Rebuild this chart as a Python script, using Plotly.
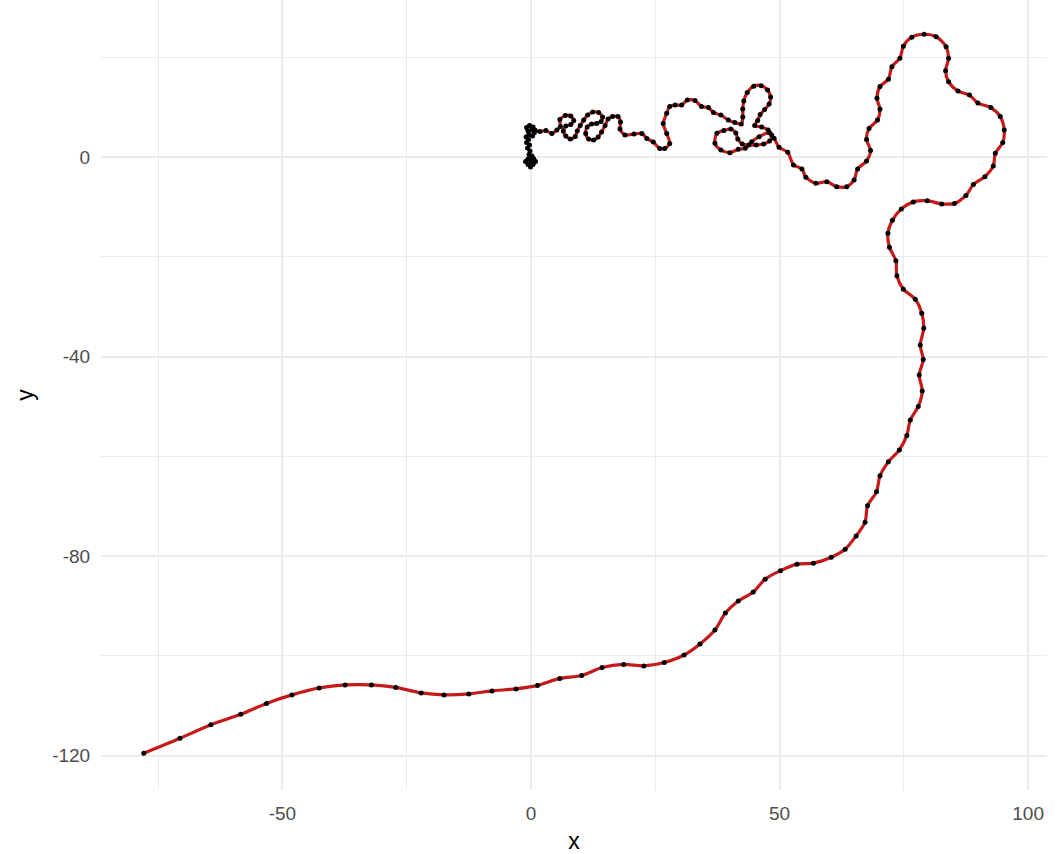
import plotly.graph_objects as go

# ---- path values (data units) ----
origin_x = [0, 0.5, 0.9, 0.4, -0.1, -0.6, -1.1, -0.6, 0.0, 0.6, 0.2, -0.4, -0.2, -0.7, -0.3, -0.9, -0.5, -1.0, -0.4, 0.3, 0.7, 0.1, -0.6, -0.9, -0.3, 0.4, 0.8]
origin_y = [0, -0.3, -0.9, -1.5, -2.0, -1.5, -0.9, -0.4, -0.9, -0.5, 0.2, 0.5, 1.2, 1.8, 2.4, 2.9, 3.5, 4.0, 4.5, 4.2, 4.9, 5.4, 5.2, 5.9, 6.3, 6.0, 5.4]

early_x = [1.8, 3.0, 4.2, 5.2, 5.9, 5.8, 6.9, 8.0, 8.6, 8.0, 7.0, 6.5, 7.0, 7.9, 8.9, 9.3, 9.9, 10.6, 11.4, 12.4, 13.6, 14.4, 14.1, 13.2, 12.2, 11.3, 11.0, 11.6, 12.6, 13.5, 14.2, 14.9, 15.5, 16.4, 17.5, 18.0, 17.9, 18.9, 20.7, 22.3, 23.3, 24.6, 25.9, 26.9, 27.9, 27.3, 26.6, 27.3, 27.9, 29.0, 30.3, 31.45, 33.0, 34.3, 35.7, 36.7, 38.2]
early_y = [5.1, 5.3, 4.7, 5.4, 6.1, 7.5, 8.3, 8.2, 7.3, 6.5, 6.2, 5.2, 4.2, 3.6, 4.1, 5.2, 6.3, 7.4, 8.4, 9.0, 8.9, 8.0, 7.1, 6.7, 6.6, 6.0, 4.7, 3.6, 3.4, 4.0, 5.0, 6.3, 7.6, 8.1, 8.1, 7.0, 5.6, 4.4, 4.6, 4.7, 3.7, 3.0, 1.7, 1.7, 2.7, 4.7, 6.7, 8.75, 10.1, 10.4, 10.4, 11.4, 11.3, 10.1, 9.9, 8.9, 8.4]

loop_x = [39.7, 41.0, 42.3, 42.6, 42.6, 42.8, 43.5, 44.8, 46.3, 47.6, 48.2, 47.9, 47.0, 46.1, 45.6, 45.0, 46.4, 47.7, 48.4, 48.0, 46.8, 45.3, 43.8, 42.5, 41.6, 41.2, 40.2, 38.8, 37.4, 37.0, 38.2, 40.0, 41.7, 43.1, 44.4, 45.9, 47.95]
loop_y = [7.4, 6.9, 6.6, 8.0, 9.6, 11.2, 12.9, 14.2, 14.3, 13.4, 12.0, 10.6, 9.5, 8.5, 7.3, 6.3, 6.0, 5.4, 4.4, 3.2, 2.6, 2.4, 2.4, 2.6, 3.6, 4.8, 5.6, 5.3, 4.75, 2.74, 1.4, 0.86, 1.54, 1.74, 3.07, 4.07, 4.87]

arc_x = [48.9, 49.9, 51.65, 52.8, 54.5, 55.3, 57.3, 59.5, 61.5, 63.5, 65.0, 65.7, 67.5, 68.3, 67.5, 68.0, 69.7, 70.2, 69.6, 70.2, 71.9, 72.6, 74.2, 74.9, 76.6, 79.1, 81.5, 83.5, 84.0, 83.4, 84.0, 85.9, 88.2, 89.9, 92.5, 94.4, 95.2, 94.9, 93.4, 93.0, 91.3, 89.0, 87.5, 85.2, 82.6, 79.7, 76.9, 74.5, 72.7, 71.8, 72.1, 73.4, 73.6, 74.9, 77.3, 78.6, 79.0, 78.3, 78.9, 78.1, 78.7, 77.9, 76.3, 75.6, 74.1, 71.9, 70.2, 69.5, 67.7, 67.2, 65.4, 63.2, 60.4, 56.8, 53.5, 50.2, 47.1, 44.7, 41.7, 39.1, 37.0, 34.0, 30.8, 26.8, 22.7, 18.65, 14.3, 10.2, 5.8, 1.3, -3.0, -7.85, -12.5, -17.5, -22.1, -27.2, -32.1, -37.4, -42.6, -48.1, -53.2, -58.4, -64.4, -70.6, -77.9]
arc_y = [3.75, 1.94, 0.94, -1.6, -2.4, -4.07, -5.27, -4.95, -5.95, -5.95, -4.6, -2.4, -0.8, 1.3, 3.5, 5.7, 7.4, 9.56, 11.76, 14.1, 15.6, 18.1, 19.8, 22.2, 24.0, 24.6, 24.1, 22.1, 19.8, 17.3, 15.1, 13.2, 12.4, 10.8, 9.9, 8.1, 5.4, 2.9, 0.74, -1.8, -3.95, -5.5, -7.7, -9.3, -9.4, -8.76, -9.0, -10.4, -12.7, -15.3, -18.1, -20.8, -23.8, -26.5, -28.5, -31.3, -34.3, -37.7, -40.6, -43.7, -46.9, -50.0, -52.7, -55.8, -58.7, -61.1, -63.9, -67.1, -69.9, -73.2, -75.95, -78.6, -80.2, -81.4, -81.6, -82.9, -84.6, -87.2, -89.0, -91.4, -94.8, -97.6, -99.8, -101.3, -102.0, -101.7, -102.3, -103.9, -104.5, -105.9, -106.6, -107.0, -107.6, -107.8, -107.4, -106.3, -105.8, -105.8, -106.4, -107.8, -109.5, -111.7, -113.8, -116.5, -119.5]

x_ticks = [-50, 0, 50, 100]
x_ticklabels = ["-50", "0", "50", "100"]
x_minor = [-75, -25, 25, 75]
y_ticks = [0, -40, -80, -120]
y_ticklabels = ["0", "-40", "-80", "-120"]
y_minor = [20, -20, -60, -100]

xs = origin_x + early_x + loop_x + arc_x
ys = origin_y + early_y + loop_y + arc_y

fig = go.Figure()
fig.add_trace(go.Scatter(x=xs, y=ys, mode="lines",
                         line=dict(color="#c41a1a", width=3.2, shape="spline", smoothing=0.8),
                         hoverinfo="skip", showlegend=False))
fig.add_trace(go.Scatter(x=xs, y=ys, mode="markers",
                         marker=dict(color="black", size=5),
                         showlegend=False))

grid = "#ebebeb"
fig.update_layout(
    width=1057, height=854,
    margin=dict(l=101, r=10, t=0, b=64),
    paper_bgcolor="white", plot_bgcolor="white",
    font=dict(family="Liberation Sans, Arial, sans-serif"),
    xaxis=dict(range=[-86.5, 103.8], tickmode="array", tickvals=x_ticks, ticktext=x_ticklabels,
               showgrid=True, gridcolor=grid, gridwidth=1.8, zeroline=False, showline=False,
               ticks="outside", ticklen=6, tickcolor="rgba(0,0,0,0)",
               tickfont=dict(size=19, color="#4d4d4d"),
               minor=dict(tickvals=x_minor, showgrid=True, gridcolor=grid, gridwidth=1.1, ticks=""),
               title=dict(text="x", font=dict(size=23, color="black"), standoff=10)),
    yaxis=dict(range=[-126.86, 31.46], tickmode="array", tickvals=y_ticks, ticktext=y_ticklabels,
               showgrid=True, gridcolor=grid, gridwidth=1.8, zeroline=False, showline=False,
               ticks="outside", ticklen=6, tickcolor="rgba(0,0,0,0)",
               tickfont=dict(size=19, color="#4d4d4d"),
               minor=dict(tickvals=y_minor, showgrid=True, gridcolor=grid, gridwidth=1.1, ticks=""),
               title=dict(text="y", font=dict(size=23, color="black"), standoff=12)),
)
fig.write_html("out.html")
